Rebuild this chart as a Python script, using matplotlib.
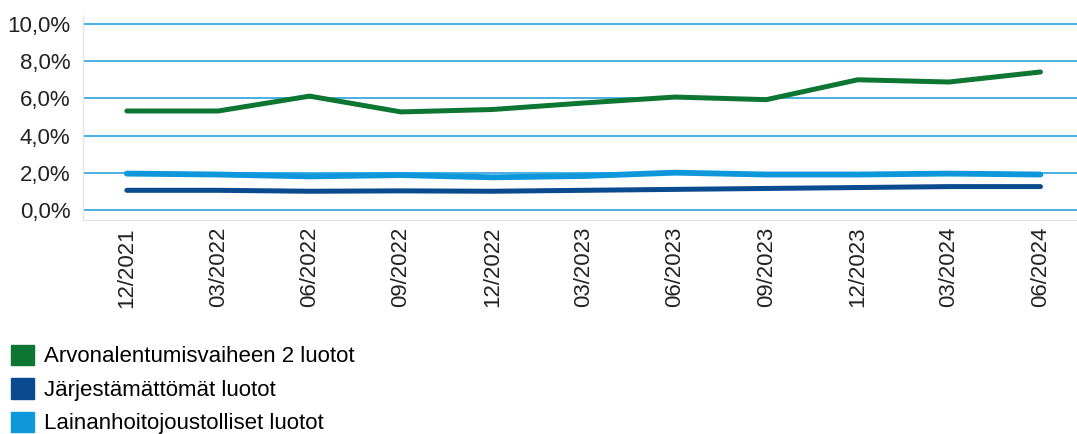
import matplotlib.pyplot as plt
from matplotlib.patches import Patch
from matplotlib.ticker import FuncFormatter

plt.rcParams['font.family'] = ['Liberation Sans', 'DejaVu Sans']

quarters = ['12/2021', '03/2022', '06/2022', '09/2022', '12/2022', '03/2023',
            '06/2023', '09/2023', '12/2023', '03/2024', '06/2024']
stage2 = [5.32, 5.32, 6.12, 5.27, 5.4, 5.75, 6.07, 5.93, 7.0, 6.88, 7.42]
nonperforming = [1.05, 1.05, 1.0, 1.02, 1.0, 1.05, 1.1, 1.15, 1.2, 1.25, 1.25]
forborne = [1.95, 1.9, 1.8, 1.87, 1.75, 1.82, 2.0, 1.9, 1.9, 1.95, 1.9]

labels = ['Arvonalentumisvaiheen 2 luotot', 'Järjestämättömät luotot',
          'Lainanhoitojoustolliset luotot']
colors = ['#0d7633', '#0a4a8e', '#0f97db']

fig = plt.figure(figsize=(10.77, 4.34), dpi=100)
ax = fig.add_axes([83 / 1077, 0.493, 1 - 83 / 1077, 0.473])

x = list(range(len(quarters)))
ax.plot(x, forborne, color=colors[2], lw=4.2, solid_capstyle='round', zorder=3)
ax.plot(x, nonperforming, color=colors[1], lw=3.6, solid_capstyle='round', zorder=4)
ax.plot(x, stage2, color=colors[0], lw=3.6, solid_capstyle='round', zorder=4)

ax.set_xlim(-0.48, 10.4)
ax.set_ylim(-0.55, 10.5)
ax.set_yticks([0, 2, 4, 6, 8, 10])
ax.yaxis.set_major_formatter(FuncFormatter(lambda v, p: f'{v:.1f}%'.replace('.', ',')))
ax.set_xticks(x)
ax.set_xticklabels(quarters, rotation=90)
ax.tick_params(axis='both', length=0, labelsize=16, colors='#222222')
ax.tick_params(axis='y', pad=9)
ax.tick_params(axis='x', pad=5)
ax.grid(axis='y', color='#1a9ad6', lw=1.1)
ax.set_axisbelow(True)
for s in ['top', 'right']:
    ax.spines[s].set_visible(False)
for s in ['left', 'bottom']:
    ax.spines[s].set_color('#e4e4e4')

handles = [Patch(color=c) for c in colors]
fig.legend(handles, labels, loc='upper left', bbox_to_anchor=(0.0102, 0.206),
           frameon=False, fontsize=16, handlelength=1.04, handleheight=1.04,
           handletextpad=0.45, labelspacing=0.48, borderpad=0, borderaxespad=0)

fig.savefig('out.png', dpi=100)
